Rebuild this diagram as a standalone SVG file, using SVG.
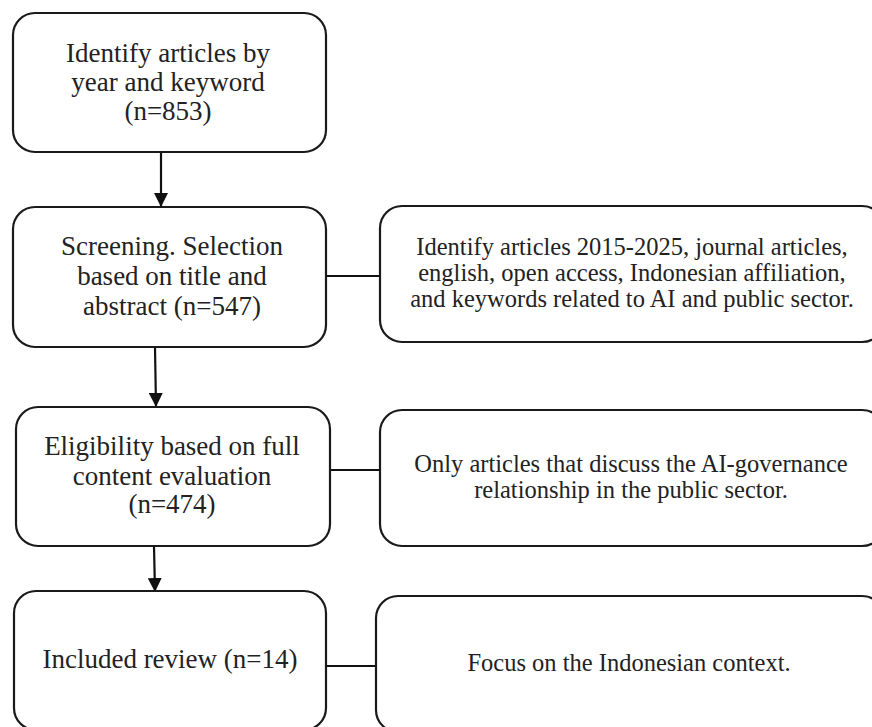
<svg xmlns="http://www.w3.org/2000/svg" width="872" height="727" viewBox="0 0 872 727">
<defs>
<style>
.box{fill:#fff;stroke:#1a1a1a;stroke-width:2.2}
.l{font-family:"Liberation Serif",serif;font-size:27px;fill:#222;text-anchor:middle}
.r{font-family:"Liberation Serif",serif;font-size:24.5px;fill:#222;text-anchor:middle}
.c{stroke:#111;stroke-width:2.2;fill:none}
</style>
<marker id="ah" viewBox="0 0 10 10" refX="10" refY="5" markerUnits="userSpaceOnUse" markerWidth="14" markerHeight="14" orient="auto">
<path d="M0,0 L10,5 L0,10 z" fill="#111"/>
</marker>
</defs>
<rect width="872" height="727" fill="#fff"/>
<g id="connectors">
<line class="c" x1="161" y1="152" x2="161" y2="207" marker-end="url(#ah)"/>
<line class="c" x1="155" y1="347" x2="156" y2="407" marker-end="url(#ah)"/>
<line class="c" x1="154" y1="546" x2="155" y2="592" marker-end="url(#ah)"/>
<line class="c" x1="326" y1="276" x2="380" y2="276"/>
<line class="c" x1="330" y1="470" x2="380" y2="470"/>
<line class="c" x1="326" y1="666" x2="376" y2="666"/>
</g>
<g id="n1">
<rect class="box" x="13" y="13" width="313" height="139" rx="22"/>
<text class="l" x="168" y="62">Identify articles by</text>
<text class="l" x="168" y="91">year and keyword</text>
<text class="l" x="168" y="120">(n=853)</text>
</g>
<g id="n2">
<rect class="box" x="13" y="207" width="313" height="140" rx="22"/>
<text class="l" x="172" y="255">Screening. Selection</text>
<text class="l" x="172" y="285">based on title and</text>
<text class="l" x="172" y="315">abstract (n=547)</text>
</g>
<g id="n3">
<rect class="box" x="380" y="206" width="504" height="136" rx="22"/>
<text class="r" x="632" y="255">Identify articles 2015-2025, journal articles,</text>
<text class="r" x="632" y="281">english, open access, Indonesian affiliation,</text>
<text class="r" x="632" y="307">and keywords related to AI and public sector.</text>
</g>
<g id="n4">
<rect class="box" x="16" y="407" width="314" height="139" rx="22"/>
<text class="l" x="172" y="455">Eligibility based on full</text>
<text class="l" x="172" y="485">content evaluation</text>
<text class="l" x="172" y="513">(n=474)</text>
</g>
<g id="n5">
<rect class="box" x="380" y="410" width="504" height="136" rx="22"/>
<text class="r" x="631" y="472">Only articles that discuss the AI-governance</text>
<text class="r" x="631" y="498">relationship in the public sector.</text>
</g>
<g id="n6">
<rect class="box" x="14" y="591" width="312" height="139" rx="22"/>
<text class="l" x="170" y="668">Included review (n=14)</text>
</g>
<g id="n7">
<rect class="box" x="376" y="596" width="508" height="136" rx="22"/>
<text class="r" x="629" y="671">Focus on the Indonesian context.</text>
</g>
</svg>
